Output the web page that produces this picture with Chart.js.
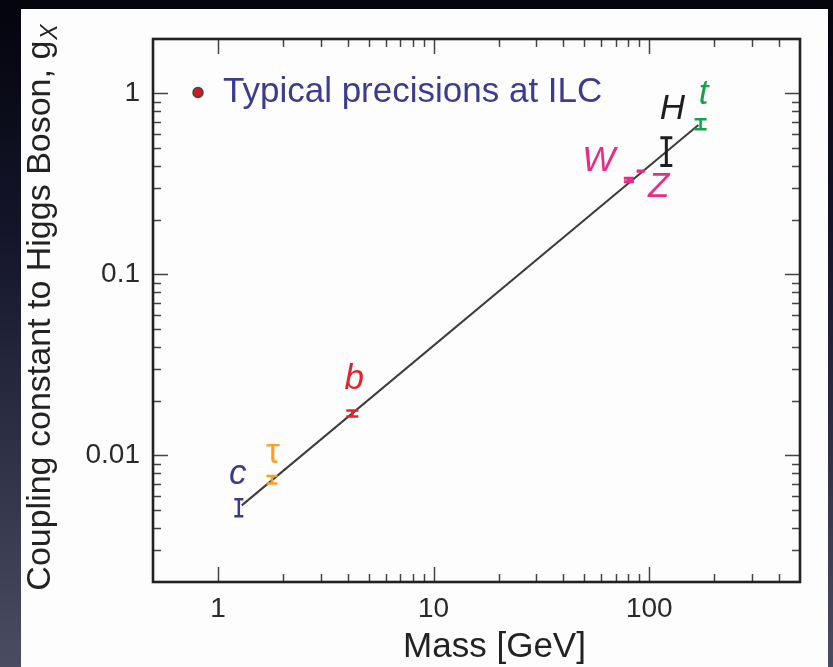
<!DOCTYPE html>
<html>
<head>
<meta charset="utf-8">
<script src="https://cdn.jsdelivr.net/npm/chart.js@4.4.1/dist/chart.umd.min.js"></script>
<style>
  html, body { margin: 0; padding: 0; width: 833px; height: 667px; overflow: hidden; }
  body { position: relative; background: linear-gradient(to bottom, #04040c 0%, #14152a 35%, #4a4c62 100%); }
  #panel { position: absolute; left: 21px; top: 9px; width: 807px; height: 658px; background: #fdfdfd; }
  #wrap { position: absolute; left: 0; top: 0; width: 833px; height: 667px; }
</style>
</head>
<body>
<div id="panel"></div>
<div id="wrap"><canvas id="myChart" width="833" height="667"></canvas></div>
<script>
// particles and values
const particles = ['c', 'τ', 'b', 'W', 'Z', 'H', 't'];
const masses = [1.25, 1.78, 4.2, 80.4, 91.2, 120, 173];
const couplings = [0.0052, 0.0074, 0.0170, 0.332, 0.372, 0.475, 0.675];
const errLow = [0.00462, 0.0070, 0.0164, 0.325, 0.369, 0.40, 0.634];
const errHigh = [0.00573, 0.0077, 0.0177, 0.340, 0.376, 0.57, 0.72];

// straight line through the fermions
const lineMass = [1.29, 169];
const lineCoupling = [0.0053, 0.67];

// axis ticks
const xTickLabels = [1, 10, 100];
const xMinorTicks = [2, 3, 4, 5, 6, 7, 8, 9, 20, 30, 40, 50, 60, 70, 80, 90, 200, 300, 400];
const yTickLabels = [0.01, 0.1, 1];
const yMinorTicks = [0.003, 0.004, 0.005, 0.006, 0.007, 0.008, 0.009,
                     0.02, 0.03, 0.04, 0.05, 0.06, 0.07, 0.08, 0.09,
                     0.2, 0.3, 0.4, 0.5, 0.6, 0.7, 0.8, 0.9];

const legendText = 'Typical precisions at ILC';

// styles
const colors = ['#3b3b8e', '#f2a22a', '#e8202a', '#ea2b86', '#ea2b86', '#1e1e1e', '#18a04c'];
const capWidth = [9, 11, 12, 10, 8, 12, 12];
const barWidth = [2.5, 2.5, 2.5, 3, 2, 3, 2.5];
const labelDx = [-1, 1, 2, -30, 18, 6, 3];
const labelDy = [-33, -26, -35, -19, 16, -43, -30];
const font = 'Liberation Sans, Arial, Helvetica, sans-serif';

// tick marks inside the frame + frame
const frameTicks = {
  id: 'frameTicks',
  beforeDatasetsDraw(chart) {
    const {ctx, chartArea: a, scales: {x, y}} = chart;
    ctx.save();
    ctx.strokeStyle = '#444';
    ctx.lineWidth = 1.5;
    const xt = (v, len) => {
      const px = Math.round(x.getPixelForValue(v)) + 0.5;
      ctx.beginPath();
      ctx.moveTo(px, a.bottom); ctx.lineTo(px, a.bottom - len);
      ctx.moveTo(px, a.top); ctx.lineTo(px, a.top + len);
      ctx.stroke();
    };
    const yt = (v, len) => {
      const py = Math.round(y.getPixelForValue(v)) + 0.5;
      ctx.beginPath();
      ctx.moveTo(a.left, py); ctx.lineTo(a.left + len, py);
      ctx.moveTo(a.right, py); ctx.lineTo(a.right - len, py);
      ctx.stroke();
    };
    xTickLabels.forEach(v => xt(v, 15));
    xMinorTicks.forEach(v => xt(v, 8));
    yTickLabels.forEach(v => yt(v, 15));
    yMinorTicks.forEach(v => yt(v, 8));
    ctx.lineWidth = 2.6;
    ctx.strokeStyle = '#222';
    ctx.strokeRect(a.left, a.top, a.right - a.left, a.bottom - a.top);
    ctx.restore();
  }
};

// error bars, particle labels, legend and axis titles
const markers = {
  id: 'markers',
  afterDatasetsDraw(chart) {
    const {ctx, chartArea: a, scales: {x, y}} = chart;
    ctx.save();
    particles.forEach((p, i) => {
      const px = x.getPixelForValue(masses[i]);
      const py = y.getPixelForValue(couplings[i]);
      const y1 = y.getPixelForValue(errLow[i]);
      const y2 = y.getPixelForValue(errHigh[i]);
      const hw = capWidth[i] / 2;
      ctx.strokeStyle = colors[i];
      ctx.lineWidth = barWidth[i];
      ctx.beginPath();
      ctx.moveTo(px, y1); ctx.lineTo(px, y2);
      ctx.moveTo(px - hw, y1); ctx.lineTo(px + hw, y1);
      ctx.moveTo(px - hw, y2); ctx.lineTo(px + hw, y2);
      ctx.stroke();

      ctx.fillStyle = colors[i];
      ctx.font = (p === 'τ' ? '' : 'italic ') + '35px ' + font;
      ctx.textAlign = 'center';
      ctx.textBaseline = 'middle';
      ctx.fillText(p, px + labelDx[i], py + labelDy[i]);
    });

    // legend
    const lx = a.left + 45, ly = y.getPixelForValue(1) - 1;
    ctx.beginPath();
    ctx.arc(lx, ly, 5, 0, Math.PI * 2);
    ctx.fillStyle = '#d01c1c';
    ctx.fill();
    ctx.lineWidth = 1.5;
    ctx.strokeStyle = '#444';
    ctx.stroke();
    ctx.fillStyle = '#3c3c8e';
    ctx.font = '35px ' + font;
    ctx.textAlign = 'left';
    ctx.textBaseline = 'middle';
    ctx.fillText(legendText, lx + 25, ly);

    // x title
    ctx.fillStyle = '#222';
    ctx.font = '35px ' + font;
    ctx.textAlign = 'center';
    ctx.textBaseline = 'alphabetic';
    ctx.fillText('Mass [GeV]', (a.left + a.right) / 2 + 18, 657);

    // y title with subscript
    const main = 'Coupling constant to Higgs Boson, g';
    ctx.translate(41, 308);
    ctx.rotate(-Math.PI / 2);
    ctx.font = '34px ' + font;
    const w1 = ctx.measureText(main).width;
    ctx.font = 'italic 23px ' + font;
    const w2 = ctx.measureText('X').width;
    const start = -(w1 + w2) / 2;
    ctx.textAlign = 'left';
    ctx.textBaseline = 'middle';
    ctx.font = '34px ' + font;
    ctx.fillText(main, start, 0);
    ctx.font = 'italic 23px ' + font;
    ctx.fillText('X', start + w1 + 1, 10);
    ctx.restore();
  }
};

const data = {
  datasets: [{
    label: 'line',
    data: lineMass.map((m, i) => ({x: m, y: lineCoupling[i]})),
    showLine: true,
    borderColor: '#3c3c3c',
    borderWidth: 2,
    pointRadius: 0
  }, {
    label: legendText,
    data: masses.map((m, i) => ({x: m, y: couplings[i]})),
    pointRadius: 0,
    showLine: false
  }]
};

const configData = {
  type: 'scatter',
  data: data,
  options: {
    responsive: false,
    animation: false,
    layout: {padding: {top: 39, right: 33, left: 0, bottom: 0}},
    plugins: {legend: {display: false}, tooltip: {enabled: false}},
    scales: {
      x: {
        type: 'logarithmic',
        min: 0.5,
        max: 500,
        grid: {display: false},
        border: {display: false},
        afterBuildTicks: s => { s.ticks = xTickLabels.map(v => ({value: v})); },
        afterFit: s => { s.height = 85; },
        ticks: {
          autoSkip: false, maxRotation: 0, padding: 2,
          color: '#2a2a2a', font: {family: font, size: 28},
          callback: v => String(v)
        }
      },
      y: {
        type: 'logarithmic',
        min: 0.002,
        max: 2,
        grid: {display: false},
        border: {display: false},
        afterBuildTicks: s => { s.ticks = yTickLabels.map(v => ({value: v})); },
        afterFit: s => { s.width = 153; },
        ticks: {
          autoSkip: false, padding: 5,
          color: '#2a2a2a', font: {family: font, size: 28},
          callback: v => String(v)
        }
      }
    }
  },
  plugins: [frameTicks, markers]
};

new Chart(document.getElementById('myChart'), configData);
</script>
</body>
</html>
